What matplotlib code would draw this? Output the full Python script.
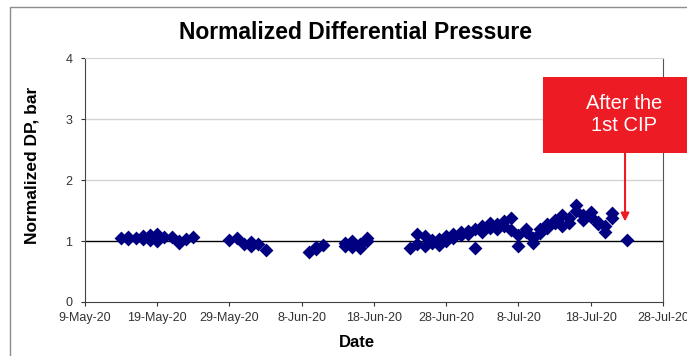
import numpy as np
import pandas as pd
import matplotlib.pyplot as plt
import matplotlib.dates as mdates
from matplotlib.patches import Rectangle

plt.rcParams['font.family'] = ['Liberation Sans', 'DejaVu Sans']

# Daten (gelesen aus der Grafik)
dates = [
    '2020-05-14', '2020-05-15', '2020-05-15', '2020-05-16', '2020-05-17', '2020-05-17',
    '2020-05-18', '2020-05-18', '2020-05-19', '2020-05-19', '2020-05-20',
    '2020-05-21', '2020-05-22', '2020-05-22', '2020-05-23', '2020-05-24',
    '2020-05-29', '2020-05-30', '2020-05-31', '2020-06-01', '2020-06-01', '2020-06-02',
    '2020-06-03',
    '2020-06-09', '2020-06-10', '2020-06-10', '2020-06-11',
    '2020-06-14', '2020-06-14', '2020-06-15', '2020-06-15', '2020-06-16', '2020-06-16',
    '2020-06-17', '2020-06-17',
    '2020-06-23', '2020-06-24', '2020-06-24', '2020-06-25', '2020-06-25', '2020-06-26',
    '2020-06-26', '2020-06-27', '2020-06-27', '2020-06-28', '2020-06-28', '2020-06-29',
    '2020-06-29', '2020-06-30', '2020-06-30', '2020-07-01', '2020-07-01', '2020-07-02',
    '2020-07-02', '2020-07-03', '2020-07-03', '2020-07-04', '2020-07-04', '2020-07-05',
    '2020-07-05', '2020-07-06', '2020-07-06', '2020-07-07', '2020-07-07', '2020-07-08',
    '2020-07-08', '2020-07-09', '2020-07-09', '2020-07-10', '2020-07-10', '2020-07-11',
    '2020-07-11', '2020-07-12', '2020-07-12', '2020-07-13', '2020-07-13', '2020-07-14',
    '2020-07-14', '2020-07-15', '2020-07-15', '2020-07-16', '2020-07-16', '2020-07-17',
    '2020-07-17', '2020-07-18', '2020-07-18', '2020-07-19', '2020-07-19', '2020-07-20',
    '2020-07-20', '2020-07-21', '2020-07-21',
    '2020-07-23',
]
dp = [
    1.05, 1.06, 1.03, 1.05, 1.04, 1.08,
    1.02, 1.10, 1.12, 1.00, 1.07,
    1.06, 1.00, 0.97, 1.04, 1.07,
    1.02, 1.05, 0.95, 0.98, 0.92, 0.95,
    0.86,
    0.82, 0.87, 0.90, 0.93,
    0.97, 0.92, 1.00, 0.90, 0.88, 0.95,
    1.00, 1.05,
    0.88, 1.12, 0.95, 1.08, 0.92, 0.97,
    1.02, 0.94, 1.04, 1.00, 1.08, 1.05,
    1.12, 1.10, 1.15, 1.12, 1.17, 1.20,
    0.88, 1.15, 1.25, 1.22, 1.30, 1.28,
    1.20, 1.32, 1.25, 1.37, 1.18, 1.10,
    0.92, 1.20, 1.15, 0.97, 1.05, 1.13,
    1.20, 1.21, 1.28, 1.30, 1.35, 1.43,
    1.25, 1.38, 1.30, 1.59, 1.50, 1.43,
    1.35, 1.48, 1.40, 1.31, 1.28, 1.15,
    1.25, 1.46, 1.38,
    1.02,
]
dates = pd.to_datetime(dates)

tick_dates = pd.date_range('2020-05-09', '2020-07-28', freq='10D')
tick_labels = ['9-May-20', '19-May-20', '29-May-20', '8-Jun-20', '18-Jun-20',
               '28-Jun-20', '8-Jul-20', '18-Jul-20', '28-Jul-20']
cip_date = pd.Timestamp('2020-07-22 18:00')

fig = plt.figure(figsize=(6.87, 3.56), dpi=100)
ax = fig.add_axes([0.1237, 0.1517, 0.965 - 0.1237, 0.837 - 0.1517])

# Rahmen um das Diagramm
fig.add_artist(Rectangle((10 / 687, -0.2), 1.2, 1.18, transform=fig.transFigure,
                         fill=False, edgecolor='#8c8c8c', linewidth=1.0))

for yv in [2, 3]:
    ax.axhline(yv, color='#d4d4d4', linewidth=1.0, zorder=0)
ax.axhline(1, color='black', linewidth=1.0, zorder=1)

ax.scatter(dates, dp, marker='D', s=50, color='#000080', zorder=3, linewidths=0)

ax.set_xlim(tick_dates[0], tick_dates[-1])
ax.set_ylim(0, 4)
ax.set_xticks(tick_dates)
ax.set_xticklabels(tick_labels)
ax.set_yticks([0, 1, 2, 3, 4])
ax.tick_params(axis='both', labelsize=9, length=3, width=0.8, colors='#333333')
ax.tick_params(axis='x', pad=4)
ax.tick_params(axis='y', pad=6)

for s in ['left', 'bottom']:
    ax.spines[s].set_color('#444444')
ax.spines['top'].set_color('#d4d4d4')
ax.spines['right'].set_color('#555555')

ax.set_xlabel('Date', fontsize=12, fontweight='bold')
ax.xaxis.set_label_coords(0.47, -0.135)
ax.set_ylabel('Normalized DP, bar', fontsize=12.5, fontweight='bold')
ax.yaxis.set_label_coords(-0.078, 0.56)
fig.text(0.517, 0.91, 'Normalized Differential Pressure', fontsize=16.5,
         fontweight='bold', ha='center', va='center')

# Rote Box mit Pfeil
fig.add_artist(Rectangle((543 / 687, 0.570), 0.3, 0.214, transform=fig.transFigure,
                         facecolor='#ed1c24', edgecolor='none'))
fig.text(0.909, 0.677, 'After the\n1st CIP', color='white', fontsize=14.5,
         ha='center', va='center', linespacing=1.2)
ax.annotate('', xy=(cip_date, 1.32), xytext=(cip_date, 2.44),
            arrowprops=dict(arrowstyle='-|>', color='#ed1c24', lw=1.5,
                            mutation_scale=12, shrinkA=0, shrinkB=0),
            annotation_clip=False)

fig.savefig('out.png', dpi=100)
